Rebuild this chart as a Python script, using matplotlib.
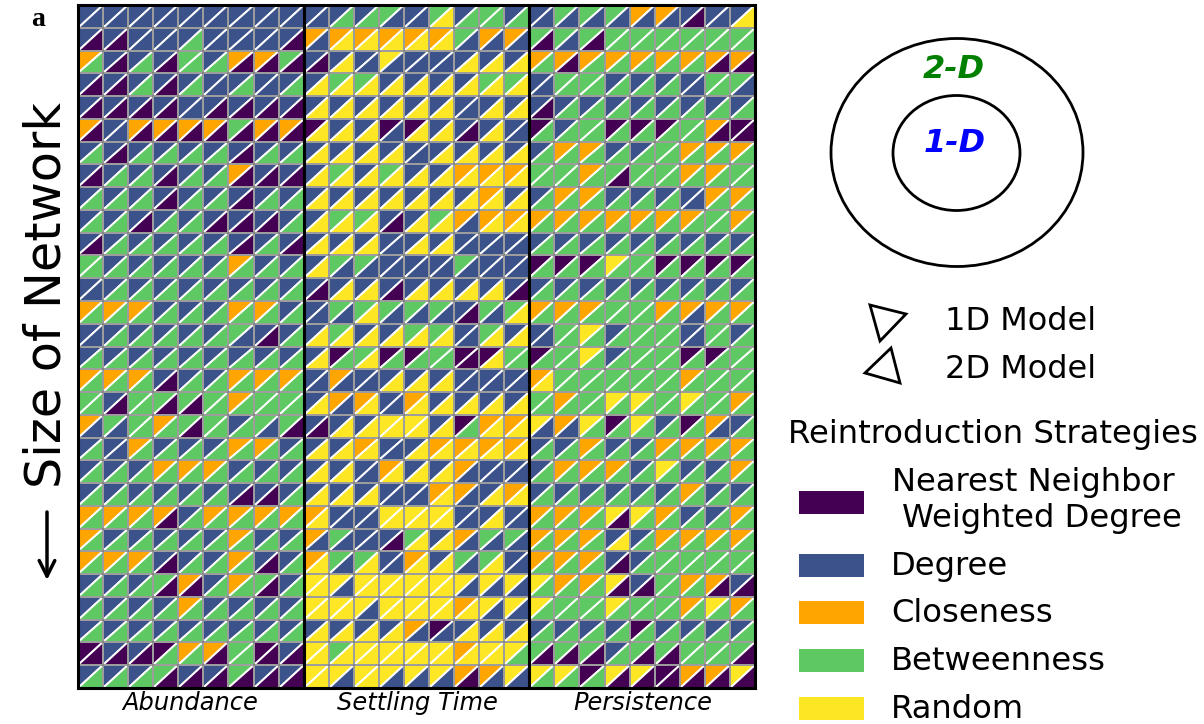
import matplotlib
matplotlib.use("Agg")
import matplotlib.pyplot as plt
from matplotlib.collections import PolyCollection
from matplotlib.patches import Ellipse, Polygon, Rectangle

# N = nearest neighbor, D = degree, C = closeness, B = betweenness, R = random
cores = {'N': '#440154', 'D': '#3b528b', 'C': '#ffa500', 'B': '#5ec962', 'R': '#fde725'}

paineis = ['Abundance', 'Settling Time', 'Persistence']
estrategias = ['D', 'C', 'B', 'R']
nomes_estrategias = ['Degree', 'Closeness', 'Betweenness', 'Random']

# triangulo de cima (1D) e de baixo (2D), uma string por linha
abundance_upper = [
    'DDDDDDDDD', 'DDDDDDDDD', 'CDDDBDCCB', 'DDDDDDDDD', 'DDDDDDDDD', 'CDCCCCBCC',
    'DDDDDDDDD', 'DDDDDDCDD', 'DDDDDDDDD', 'DDDDDDDDD', 'DDDDDDDDD', 'BDDDDDCDD',
    'DDDDDDDDD', 'CCCDDDCCD', 'DDDDDDBDD', 'DDDDDDDDD', 'CCCDDDCCC', 'BDBBBBCBB',
    'CBBCBBDBB', 'DDCDDDCCD', 'DDDCCCDDD', 'DDDDDDDDD', 'CCCCDCCCC', 'CDDDDDCDD',
    'CCCDDDCDD', 'DDDBCDCBD', 'DDDDCDDDD', 'DDDDDDDDD', 'NDDNCCBND', 'DDDBDDBDD']
abundance_lower = [
    'DDDDDDDDD', 'NNDDBDDDN', 'BNBNBBNNN', 'NNBNBDBDB', 'NNNNDNNNN', 'NDNNNNNNN',
    'BNBBBBNBB', 'NBBNBBNNN', 'BBBNBBNBB', 'BBNBBNNNB', 'NBBBBBNBN', 'BBBBBBBBB',
    'DBBBBBBBB', 'BBBBBBBBB', 'DBBBBBDNB', 'BBBBBBBBB', 'BBBNBBBBB', 'BNBNNBBBB',
    'DDBBNBBDN', 'BDBBBBBBB', 'BBBBBBBBB', 'BBBBBBNNB', 'BBBNBBBBB', 'BBBBBBBBB',
    'BBBNBBBNB', 'BBBNNBBNB', 'BBBBBBBBB', 'BBBBBBBBB', 'NNNBBNBNN', 'BBBNNNNNN']

settling_upper = [
    'DDDBDBDBD', 'CCCCCCBCC', 'DDDRDDDDD', 'DBBDDDDBB', 'DDDDDDDDD', 'NDDNNDDDD',
    'DDDDDDDDD', 'DBDBDDCCC', 'DDDDDDDCD', 'DBBDDBCCC', 'DDDDDDDDD', 'DBBDDDBDD',
    'DDDDDDDDD', 'DBBBBBDBB', 'DBDDBBDBD', 'DNBNNBNNB', 'DCDDDDDDD', 'DCCDCDDDD',
    'DDDRRDNCC', 'DDCDDCCCC', 'DDDCDDCDD', 'DDDDDCCDC', 'CDDRRRDDD', 'CBDDBDCBB',
    'CBBDCDBBD', 'RRRRRRRRR', 'RRRRRRCRR', 'DDDDCNDDD', 'RBRRRRCRR', 'RRRRRRCCR']
settling_lower = [
    'DBBDDRBBB', 'DRRRRRDDD', 'NRDDDDRRR', 'RRRRRRRRR', 'RRRRRRDRR', 'RRRDRRNRD',
    'RRRRDRRRR', 'RRRRRRRRR', 'RRRRRRRRR', 'RRRNRRDRR', 'RRRDRRDDD', 'RDDDDDDDD',
    'NRRNRRRRN', 'DDRDDDNDR', 'RRRRRRDRR', 'RBRBBBNRB', 'DDDRRRDDD', 'RDRDRRRRR',
    'NRRRRRBRR', 'RRRDRRRRR', 'RRDRRRDDD', 'RRRDDRDRR', 'RDDRRRDRD', 'DDDNRRDDD',
    'RDRDRRDRD', 'RDRRRRDDD', 'RRDRRRRDD', 'RRRRDDRRR', 'RRRRRRRRB', 'RDRDDDNDD']

persistence_upper = [
    'DBBBCCDDD', 'BBBBBBBBB', 'CCCCCCCCC', 'DBBDDDDBB', 'DDDDDDDDD', 'NDBNNNBCN',
    'DCCDDBCCC', 'BBCBBBCCB', 'DCCDDDDCC', 'CCCCCCCBC', 'DDDDDDDDD', 'NNNRBNNNN',
    'DDDDDDDDD', 'CCCBBCCCC', 'DBRDBBDBD', 'NBRDBBNNB', 'CBBBBBCBB', 'BCBRRBRBC',
    'RCRNRDNCD', 'DDCDDCCCC', 'DCCCDRDDC', 'DDDDDDCDD', 'CCCRRCDDC', 'CCCDDCCCC',
    'CCCDDBBBB', 'RCCRDBCCD', 'RBBRBBCRC', 'DDDDNDDDD', 'BBBDBBBBB', 'RRNRRNCCR']
persistence_lower = [
    'DDDDDDNDR', 'NDNBBBBBB', 'BNBBBBBNN', 'DBBBBBDBD', 'NBBBBBBBB', 'BBBBBBBNN',
    'BBBBBBBBB', 'BBBNBBBBB', 'BBBBBBDBB', 'BBBBBBBBB', 'BBBBBBBBB', 'BBBBBBBBB',
    'BBBBBBBBB', 'BBBBBBDBB', 'DBBBBBDBB', 'BBBBBBBBB', 'RBBBBBBBB', 'BBBBBBBBB',
    'DDBBBBBDB', 'BBBBBBBBB', 'BBBBBBBBB', 'BBBBBBBBB', 'BBBNBBBBB', 'BBBRBBBBB',
    'BBBNBBBBB', 'BBBNNBBNN', 'BBBBBBBBB', 'BBBBBBBBB', 'NNNBNNBBN', 'BBBNNNNNN']

# junta os tres paineis numa matriz so
upper = [a + s + p for a, s, p in zip(abundance_upper, settling_upper, persistence_upper)]
lower = [a + s + p for a, s, p in zip(abundance_lower, settling_lower, persistence_lower)]
n_lin = len(upper)
n_col = len(upper[0])

W, H = 1204, 724
fig = plt.figure(figsize=(W / 100, H / 100), dpi=100)

ax = fig.add_axes([78 / W, 1 - 688 / H, (755 - 78) / W, (688 - 5) / H])
ax.set_xlim(0, n_col)
ax.set_ylim(n_lin, 0)
ax.set_xticks([])
ax.set_yticks([])

tri_cima, cor_cima, tri_baixo, cor_baixo = [], [], [], []
for i in range(n_lin):
    for j in range(n_col):
        tri_cima.append([(j, i + 1), (j, i), (j + 1, i)])
        cor_cima.append(cores[upper[i][j]])
        tri_baixo.append([(j, i + 1), (j + 1, i + 1), (j + 1, i)])
        cor_baixo.append(cores[lower[i][j]])

for tri, cor in [(tri_cima, cor_cima), (tri_baixo, cor_baixo)]:
    ax.add_collection(PolyCollection(tri, facecolors=cor, edgecolors='white', linewidths=1.4))

# linhas entre as celulas (cinza por cima do branco)
for i in range(1, n_lin):
    ax.axhline(i, color='#808080', lw=1.1)
for j in range(1, n_col):
    ax.axvline(j, color='#808080', lw=1.1)

# separa os paineis
for j in [9, 18]:
    ax.axvline(j, color='black', lw=2.2)
for s in ax.spines.values():
    s.set_linewidth(2.2)

# eixo por cima em pixels, para os textos e legendas
ov = fig.add_axes([0, 0, 1, 1], facecolor='none')
ov.set_xlim(0, W)
ov.set_ylim(H, 0)
ov.axis('off')

for nome, x in zip(paineis, [190.5, 417, 642.5]):
    ov.text(x, 703, nome, fontsize=17.4, style='italic', ha='center', va='center')

ov.text(47, 295, 'Size of Network', fontsize=35.5, rotation=90, ha='center', va='center')
ov.annotate('', xy=(47, 580), xytext=(47, 512),
            arrowprops=dict(arrowstyle='->', lw=2.5, color='black', mutation_scale=28, shrinkA=0, shrinkB=0))
ov.text(38, 20, 'a', fontsize=20, fontweight='bold', family='Liberation Serif', ha='center', va='center')

ov.add_patch(Ellipse((957, 152.5), 252, 228, fc='none', ec='black', lw=2))
ov.add_patch(Ellipse((956.5, 153), 127, 115, fc='none', ec='black', lw=2))
ov.text(954, 70, '2-D', color='green', fontsize=23, fontweight='bold', style='italic', ha='center', va='center')
ov.text(955, 144, '1-D', color='blue', fontsize=23, fontweight='bold', style='italic', ha='center', va='center')

ov.add_patch(Polygon([(870, 305), (906, 314), (880, 341)], fc='none', ec='black', lw=2))
ov.add_patch(Polygon([(891, 348), (900, 383), (865, 373)], fc='none', ec='black', lw=2))
ov.text(945, 322, '1D Model', fontsize=23, ha='left', va='center')
ov.text(945, 370, '2D Model', fontsize=23, ha='left', va='center')

ov.text(992.5, 434, 'Reintroduction Strategies', fontsize=23.2, ha='center', va='center')

ov.add_patch(Rectangle((799, 491), 65, 23, fc=cores['N'], ec='none'))
ov.text(1033, 483, 'Nearest Neighbor', fontsize=23.2, ha='center', va='center')
ov.text(1042, 518, 'Weighted Degree', fontsize=23.2, ha='center', va='center')
for est, nome, y in zip(estrategias, nomes_estrategias, [554, 601, 649, 697]):
    ov.add_patch(Rectangle((799, y), 65, 23, fc=cores[est], ec='none'))
    ov.text(891, y + 12, nome, fontsize=23.2, ha='left', va='center')

fig.savefig('out.png', dpi=100)
